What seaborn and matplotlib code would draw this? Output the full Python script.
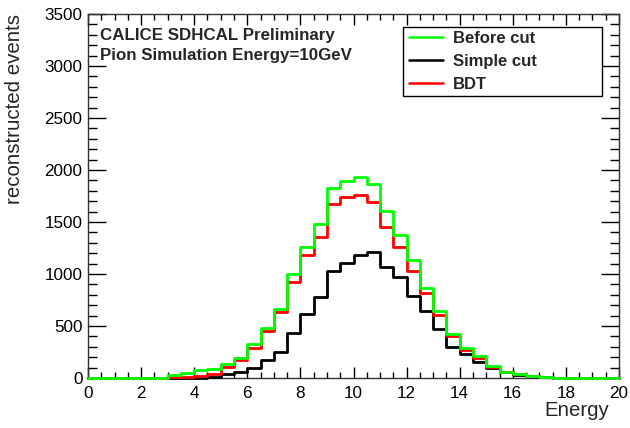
import numpy as np
import pandas as pd
import matplotlib
matplotlib.use("Agg")
import matplotlib.pyplot as plt
from matplotlib.lines import Line2D
from matplotlib.patches import Rectangle
from matplotlib.ticker import MultipleLocator
import seaborn as sns

# Histogram binning: 40 bins of 0.5 GeV between 0 and 20
bin_edges = np.arange(0.0, 20.0 + 0.25, 0.5)
bin_centers = 0.5 * (bin_edges[:-1] + bin_edges[1:])

before_cut = [0, 0, 0, 0, 0, 0, 25, 51, 75, 83, 133, 197, 325, 478, 662,
              997, 1257, 1481, 1824, 1897, 1936, 1865, 1609, 1375, 1135,
              868, 647, 427, 288, 212, 118, 61, 38, 19, 13, 3, 1, 0, 0, 0]
simple_cut = [0, 0, 0, 0, 0, 0, 0, 0, 3, 12, 34, 58, 93, 170, 253,
              436, 615, 782, 1029, 1103, 1183, 1215, 1071, 968, 792,
              641, 471, 295, 228, 157, 99, 55, 32, 18, 12, 3, 1, 0, 0, 0]
bdt = [0, 0, 0, 0, 0, 0, 5, 8, 15, 40, 109, 170, 286, 450, 630,
       926, 1183, 1359, 1673, 1744, 1756, 1696, 1449, 1257, 1032,
       814, 608, 404, 272, 189, 109, 61, 36, 17, 11, 3, 1, 0, 0, 0]

series_names = ["Before cut", "Simple cut", "BDT"]
series_colors = {"Before cut": "#00ff00", "Simple cut": "#000000", "BDT": "#ff0000"}

df = pd.concat([
    pd.DataFrame({"Energy": bin_centers, "count": before_cut, "sample": "Before cut"}),
    pd.DataFrame({"Energy": bin_centers, "count": simple_cut, "sample": "Simple cut"}),
    pd.DataFrame({"Energy": bin_centers, "count": bdt, "sample": "BDT"}),
], ignore_index=True)

sns.set_style("ticks")
plt.rcParams["font.family"] = ["Liberation Sans", "DejaVu Sans"]

W, H = 630, 428
fig = plt.figure(figsize=(W / 100, H / 100), dpi=100)
fig.patch.set_facecolor("white")
ax = fig.add_axes([88 / W, 1 - 378 / H, (619 - 88) / W, (378 - 14) / H])

# black, red, then green on top
for name in ["Simple cut", "BDT", "Before cut"]:
    sub = df[df["sample"] == name]
    sns.histplot(data=sub, x="Energy", weights="count", binwidth=0.5,
                 binrange=(0, 20), element="step", fill=False,
                 color=series_colors[name], linewidth=2.0, ax=ax,
                 clip_on=False, zorder=3)

ax.set_xlim(0, 20)
ax.set_ylim(0, 3500)
ax.set_xlabel("")
ax.set_ylabel("")

ax.xaxis.set_major_locator(MultipleLocator(2))
ax.xaxis.set_minor_locator(MultipleLocator(0.5))
ax.yaxis.set_major_locator(MultipleLocator(500))
ax.yaxis.set_minor_locator(MultipleLocator(100))

ax.tick_params(axis="both", which="both", direction="in", top=True, right=True,
               colors="black", labelsize=12.3, width=1.0)
ax.tick_params(axis="x", which="major", length=8, pad=6)
ax.tick_params(axis="x", which="minor", length=4.5)
ax.tick_params(axis="y", which="major", length=13, pad=4)
ax.tick_params(axis="y", which="minor", length=6.5)
for sp in ax.spines.values():
    sp.set_visible(True)
    sp.set_color("#333333")
    sp.set_linewidth(1.0)

def fx(px):
    return px / W

def fy(py):
    return 1 - py / H

fig.text(fx(15), fy(14), "reconstructed events", rotation=90, ha="center",
         va="top", fontsize=14.8)
fig.text(fx(609), fy(410), "Energy", ha="right", va="center", fontsize=14.7)

fig.text(fx(100), fy(35.5), "CALICE SDHCAL Preliminary", ha="left", va="center",
         fontsize=12.2, fontweight="bold")
fig.text(fx(100), fy(55.5), "Pion Simulation Energy=10GeV", ha="left", va="center",
         fontsize=12.2, fontweight="bold")

# Legend: framed box with its entries
ax.add_patch(Rectangle((fx(403), fy(96)), fx(602) - fx(403), fy(27) - fy(96),
                       transform=fig.transFigure, clip_on=False, fill=True,
                       facecolor="white", edgecolor="black", linewidth=1.0,
                       zorder=5))
handles = [Line2D([], [], color=series_colors[n], linewidth=1.8) for n in series_names]
leg = ax.legend(handles, series_names, loc="center left",
                bbox_to_anchor=(fx(409), fy(61.5)), bbox_transform=fig.transFigure,
                frameon=False, prop={"weight": "bold", "size": 12},
                handlelength=2.05, handletextpad=0.6, labelspacing=0.47,
                borderpad=0.0, borderaxespad=0)
leg.set_zorder(6)

fig.savefig("out.png", dpi=100, facecolor="white")
